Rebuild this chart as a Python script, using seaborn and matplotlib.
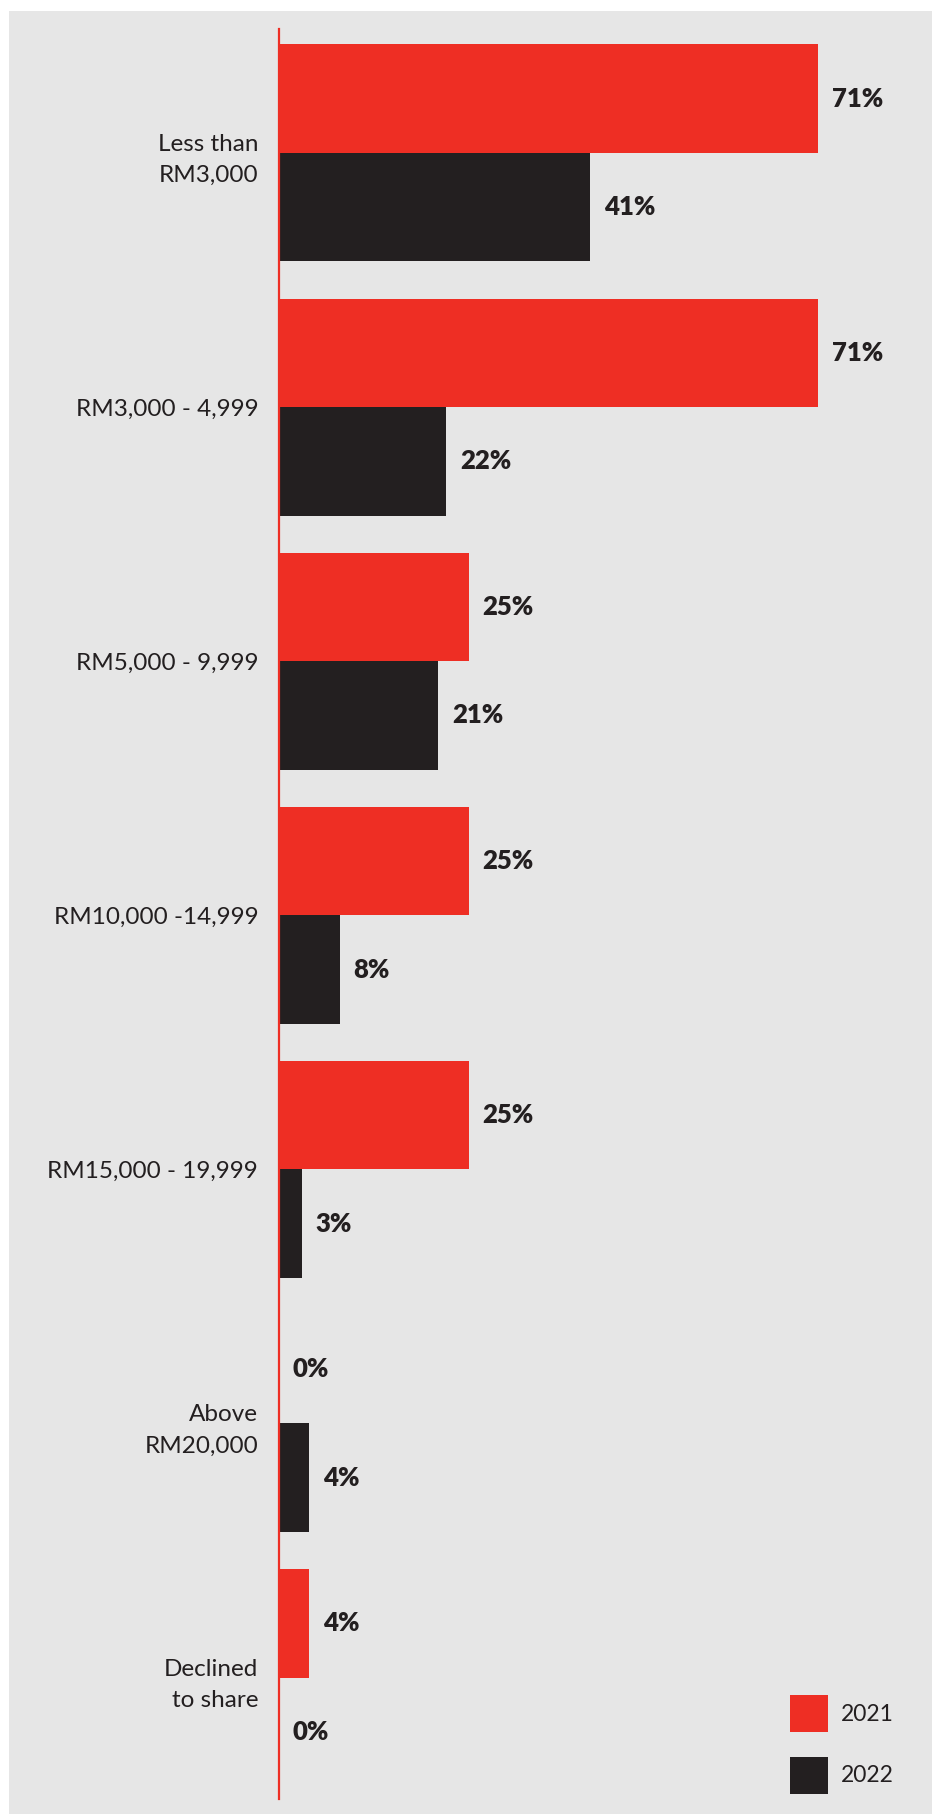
import matplotlib
matplotlib.use("Agg")
import matplotlib.pyplot as plt
from matplotlib.patches import Patch, Rectangle
import seaborn as sns
import pandas as pd

# Monthly household income brackets and share of respondents per survey year
categories = [
    "Less than\nRM3,000",
    "RM3,000 - 4,999",
    "RM5,000 - 9,999",
    "RM10,000 -14,999",
    "RM15,000 - 19,999",
    "Above\nRM20,000",
    "Declined\nto share",
]
share_2021 = [71, 71, 25, 25, 25, 0, 4]
share_2022 = [41, 22, 21, 8, 3, 4, 0]
years = ["2021", "2022"]

RED = "#ee2e24"
DARK = "#231f20"
PANEL = "#e6e6e6"

df = pd.DataFrame({
    "category": categories * 2,
    "year": [years[0]] * len(categories) + [years[1]] * len(categories),
    "share": share_2021 + share_2022,
})

sns.set_theme(style="white")
plt.rcParams["font.family"] = ["Lato", "DejaVu Sans"]

W, H = 936, 1814
fig = plt.figure(figsize=(W / 100, H / 100), dpi=100, facecolor="white")

# grey panel behind the chart
fig.patches.append(Rectangle((9 / W, 0 / H), (932 - 9) / W, (1803) / H,
                             transform=fig.transFigure, facecolor=PANEL,
                             edgecolor="none", zorder=-10))

ax_left, ax_right = 279, 936
ax_top, ax_bottom = 29, 1799
ax = fig.add_axes([ax_left / W, 1 - ax_bottom / H,
                   (ax_right - ax_left) / W, (ax_bottom - ax_top) / H])
ax.set_facecolor("none")
ax.set_zorder(5)

sns.barplot(data=df, y="category", x="share", hue="year", order=categories,
            hue_order=years, palette=[RED, DARK], orient="h", width=0.854,
            gap=0, legend=False, saturation=1, linewidth=0, ax=ax)

for container in ax.containers:
    ax.bar_label(container, labels=[f"{v:.0f}%" for v in container.datavalues],
                 padding=10, fontsize=18.5, fontweight="heavy", color=DARK)

ax.set_xlim(0, 86.6)
ax.set_ylim(6.478, -0.488)
ax.set_xlabel("")
ax.set_ylabel("")
ax.set_xticks([])
ax.tick_params(axis="y", length=0, pad=15, labelsize=17.5, labelcolor=DARK)
for lbl in ax.get_yticklabels():
    lbl.set_horizontalalignment("right")
    lbl.set_fontweight("normal")
    lbl.set_color(DARK)
    lbl.set_linespacing(1.6)

for side in ["top", "right", "bottom"]:
    ax.spines[side].set_visible(False)
ax.spines["left"].set_color(RED)
ax.spines["left"].set_linewidth(1.6)

handles = [Patch(facecolor=RED, edgecolor="none"), Patch(facecolor=DARK, edgecolor="none")]
leg = fig.legend(handles, years, loc="upper left",
                 bbox_to_anchor=(790 / W, 1 - 1695 / H), frameon=False,
                 fontsize=16.5, handlelength=1.65, handleheight=2.1, labelspacing=1.08,
                 handletextpad=0.55, borderpad=0, borderaxespad=0, labelcolor=DARK)
leg.set_zorder(6)

fig.savefig("out.png", dpi=100, facecolor="white")
